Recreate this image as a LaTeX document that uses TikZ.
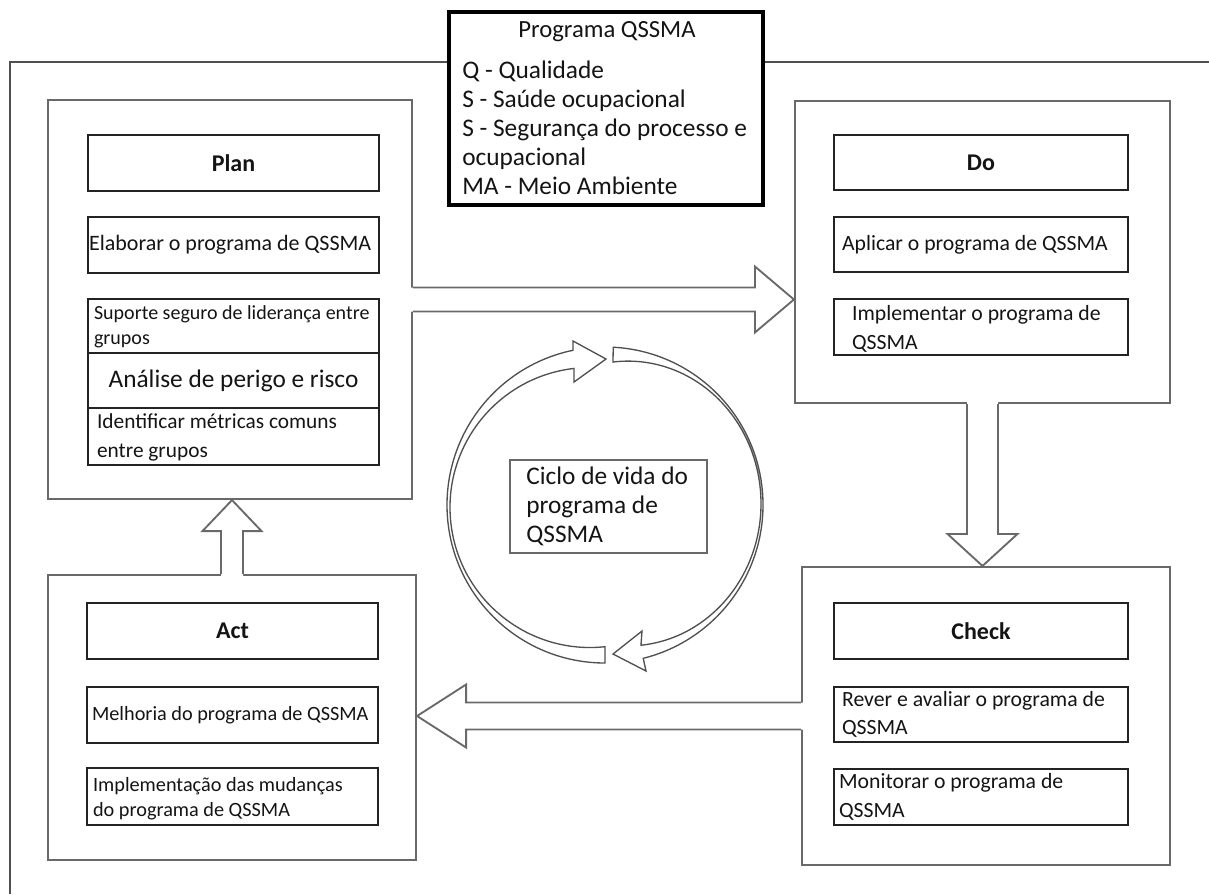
\documentclass[tikz,border=0pt]{standalone}
\usepackage{fontspec}
\setmainfont{Carlito}
\usetikzlibrary{calc}
\definecolor{pline}{RGB}{105,105,105}
\definecolor{bline}{RGB}{35,35,35}
\definecolor{fline}{RGB}{80,80,80}
\definecolor{txt}{RGB}{20,20,20}
\newcommand\fsz[2]{\fontsize{#1}{#2}\selectfont}
\newcommand\rbox[6]{\pgfmathsetmacro\rbW{(#4-#2)*0.75}\pgfmathsetmacro\rbH{(#5-#3)*0.75}\node[#6,minimum width=\rbW pt,minimum height=\rbH pt,inner sep=0pt] (#1) at ({(#2+#4)/2},{(#3+#5)/2}) {};}
\tikzset{
 panel/.style={draw=pline,line width=1.6pt,rectangle},
 ibox/.style={draw=bline,line width=1.8pt,rectangle},
 qframe/.style={draw=black,line width=2.6pt,fill=white,rectangle},
 cbox/.style={draw=pline,line width=1.3pt,rectangle},
 txtl/.style={anchor=west,align=left,inner sep=0pt,text=txt},
 headtxt/.style={font=\bfseries\fsz{18}{22},text=txt,inner sep=0pt},
 arrowline/.style={draw=pline,line width=1.4pt,line join=miter},
 cres/.style={draw=fline,line width=1pt,fill=white,line join=miter},
}
\begin{document}
\begin{tikzpicture}[x=0.75pt,y=-0.75pt]
\useasboundingbox (0,0) rectangle (1209,894);
% outer frame
\coordinate (fTL) at (10,62);
\coordinate (fBL) at (10,894);
\coordinate (fTR) at (1209,62);
\draw[fline,line width=1.6pt] (fBL) -- (fTL) -- (fTR);
% legend box
\rbox{qbox}{449}{12}{763}{205}{qframe}
\node[font=\fsz{18.5}{22},text=txt,inner sep=0pt] (qtitle) at (607,32) {Programa QSSMA};
\node[txtl,font=\fsz{19}{21.75}] (qlist) at (462,128) {Q - Qualidade\\S - Saúde ocupacional\\S - Segurança do processo e\\ocupacional\\MA - Meio Ambiente};
% panels
\rbox{plan}{48}{100}{412}{499}{panel}
\rbox{do}{795}{101}{1170}{403}{panel}
\rbox{check}{802}{567}{1170}{865}{panel}
\rbox{act}{48}{575}{416}{860}{panel}
% block arrows: Plan -> Do
\coordinate (pdS) at (plan.east);
\coordinate (pdT) at (do.west |- plan.east);
\fill[white] ($(pdS)+(-3,-12)$) -- ($(pdT)+(-39,-12)$) -- ($(pdT)+(-39,-33)$) -- (pdT) -- ($(pdT)+(-39,33)$) -- ($(pdT)+(-39,12)$) -- ($(pdS)+(-3,12)$) -- cycle;
\draw[arrowline] ($(pdS)+(0,-12)$) -- ($(pdT)+(-39,-12)$) -- ($(pdT)+(-39,-33)$) -- (pdT) -- ($(pdT)+(-39,33)$) -- ($(pdT)+(-39,12)$) -- ($(pdS)+(0,12)$);
% Do -> Check
\coordinate (dcS) at (do.south);
\coordinate (dcT) at (do.south |- check.north);
\fill[white] ($(dcS)+(-15.5,-3)$) -- ($(dcT)+(-15.5,-32)$) -- ($(dcT)+(-35,-32)$) -- (dcT) -- ($(dcT)+(35,-32)$) -- ($(dcT)+(15.5,-32)$) -- ($(dcS)+(15.5,-3)$) -- cycle;
\draw[arrowline] ($(dcS)+(-15.5,0)$) -- ($(dcT)+(-15.5,-32)$) -- ($(dcT)+(-35,-32)$) -- (dcT) -- ($(dcT)+(35,-32)$) -- ($(dcT)+(15.5,-32)$) -- ($(dcS)+(15.5,0)$);
% Check -> Act
\coordinate (caS) at (check.west);
\coordinate (caT) at (act.east |- check.west);
\fill[white] ($(caS)+(3,-13.5)$) -- ($(caT)+(49,-13.5)$) -- ($(caT)+(49,-31.5)$) -- (caT) -- ($(caT)+(49,31.5)$) -- ($(caT)+(49,13.5)$) -- ($(caS)+(3,13.5)$) -- cycle;
\draw[arrowline] ($(caS)+(0,-13.5)$) -- ($(caT)+(49,-13.5)$) -- ($(caT)+(49,-31.5)$) -- (caT) -- ($(caT)+(49,31.5)$) -- ($(caT)+(49,13.5)$) -- ($(caS)+(0,13.5)$);
% Act -> Plan
\coordinate (apS) at (act.north);
\coordinate (apT) at (act.north |- plan.south);
\fill[white] ($(apS)+(-11,3)$) -- ($(apT)+(-11,31)$) -- ($(apT)+(-29.5,31)$) -- (apT) -- ($(apT)+(29.5,31)$) -- ($(apT)+(11,31)$) -- ($(apS)+(11,3)$) -- cycle;
\draw[arrowline] ($(apS)+(-11,0)$) -- ($(apT)+(-11,31)$) -- ($(apT)+(-29.5,31)$) -- (apT) -- ($(apT)+(29.5,31)$) -- ($(apT)+(11,31)$) -- ($(apS)+(11,0)$);
% Plan column
\rbox{planh}{88}{135}{379}{191}{ibox}
\node[headtxt] (planht) at (planh) {Plan};
\rbox{elab}{88}{217}{379}{273}{ibox}
\node[txtl,font=\fsz{16.5}{20}] (elabt) at ($(elab.west)+(2,0)$) {Elaborar o programa de QSSMA};
\rbox{supo}{88}{299}{379}{353}{ibox}
\node[txtl,font=\fsz{15}{18.75}] (supot) at ($(supo.west)+(7,1)$) {Suporte seguro de liderança entre\\grupos};
\rbox{anal}{88}{353}{379}{408}{ibox}
\node[font=\fsz{19}{22},text=txt,inner sep=0pt] (analt) at (anal) {Análise de perigo e risco};
\rbox{iden}{88}{408}{379}{465}{ibox}
\node[txtl,font=\fsz{16}{21.75}] (ident) at ($(iden.west)+(10,1)$) {Identificar métricas comuns\\entre grupos};
% Do column
\rbox{doh}{834}{135}{1128}{190}{ibox}
\node[headtxt] (doht) at (doh) {Do};
\rbox{apl}{834}{217}{1128}{272}{ibox}
\node[txtl,font=\fsz{16.3}{20}] (aplt) at ($(apl.west)+(9,0)$) {Aplicar o programa de QSSMA};
\rbox{impl}{834}{299}{1128}{355}{ibox}
\node[txtl,font=\fsz{16.3}{21.75}] (implt) at ($(impl.west)+(19,2)$) {Implementar o programa de\\QSSMA};
% Check column
\rbox{chh}{834}{603}{1128}{659}{ibox}
\node[headtxt] (chht) at (chh) {Check};
\rbox{rev}{834}{687}{1128}{742}{ibox}
\node[txtl,font=\fsz{16.3}{21}] (revt) at ($(rev.west)+(9,0)$) {Rever e avaliar o programa de\\QSSMA};
\rbox{mon}{834}{769}{1128}{825}{ibox}
\node[txtl,font=\fsz{16.3}{21.75}] (mont) at ($(mon.west)+(6,0)$) {Monitorar o programa de\\QSSMA};
% Act column
\rbox{acth}{87}{603}{378}{659}{ibox}
\node[headtxt] (actht) at (acth) {Act};
\rbox{melh}{87}{687}{378}{743}{ibox}
\node[txtl,font=\fsz{15.2}{19}] (melht) at ($(melh.west)+(6,0)$) {Melhoria do programa de QSSMA};
\rbox{impm}{87}{768}{378}{825}{ibox}
\node[txtl,font=\fsz{15.2}{18.75}] (impmt) at ($(impm.west)+(7,2)$) {Implementação das mudanças\\do programa de QSSMA};
% life cycle crescent arrows
\draw[cres] (605,505) ++(-87:158) arc[start angle=-87,end angle=76,radius=158] -- (646,671) -- (613,654) -- (642,631) -- ($(628,503.5)+({133*cos(84.4)},{142.4*sin(84.4)})$) arc[start angle=84.4,end angle=-96.5,x radius=133,y radius=142.4] -- cycle;
\draw[cres] (605,505) ++(90:158) arc[start angle=90,end angle=258.3,radius=158] -- (573,341) -- (606,359) -- (574,382) -- ($(590,507.5)+(263.4:140)$) arc[start angle=263.4,end angle=83.85,radius=140] -- cycle;
% centre box
\rbox{cyc}{510}{460}{707}{553}{cbox}
\node[txtl,font=\fsz{19}{22}] (cyct) at ($(cyc.west)+(17,0)$) {Ciclo de vida do\\programa de\\QSSMA};
\end{tikzpicture}
\end{document}
